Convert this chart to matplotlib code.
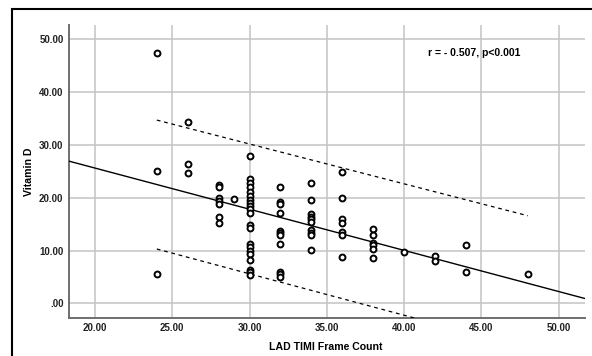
import matplotlib
matplotlib.use("Agg")
import matplotlib.pyplot as plt
from matplotlib.patches import Rectangle
import numpy as np

plt.rcParams['font.family'] = ['Liberation Sans', 'DejaVu Sans']

# Data (LAD TIMI frame count vs Vitamin D)
tfc_24 = [24]*3;  vitd_24 = [47.4, 25.1, 5.6]
tfc_26 = [26]*3;  vitd_26 = [34.3, 26.4, 24.7]
tfc_28 = [28]*7;  vitd_28 = [22.4, 22.0, 19.9, 19.4, 18.8, 16.4, 15.2]
tfc_29 = [29];    vitd_29 = [19.8]
tfc_30 = [30]*21; vitd_30 = [27.9, 23.5, 22.7, 22.0, 21.1, 20.4, 19.5, 19.0, 18.5, 17.8,
                             17.1, 14.9, 14.2, 11.3, 10.6, 10.0, 9.4, 8.3, 6.4, 6.0, 5.4]
tfc_32 = [32]*11; vitd_32 = [22.1, 19.2, 18.9, 17.2, 13.8, 13.4, 12.9, 11.2, 5.9, 5.5, 5.0]
tfc_34 = [34]*10; vitd_34 = [22.8, 19.6, 16.9, 16.4, 15.9, 15.4, 13.9, 13.4, 12.9, 10.1]
tfc_36 = [36]*7;  vitd_36 = [24.8, 20.0, 15.9, 15.3, 13.5, 13.0, 8.8]
tfc_38 = [38]*6;  vitd_38 = [14.1, 12.9, 11.5, 11.0, 10.3, 8.6]
tfc_40 = [40];    vitd_40 = [9.7]
tfc_42 = [42]*2;  vitd_42 = [8.9, 8.0]
tfc_44 = [44]*2;  vitd_44 = [11.0, 5.9]
tfc_48 = [48];    vitd_48 = [5.6]

tfc = tfc_24 + tfc_26 + tfc_28 + tfc_29 + tfc_30 + tfc_32 + tfc_34 + tfc_36 + tfc_38 + tfc_40 + tfc_42 + tfc_44 + tfc_48
vitd = vitd_24 + vitd_26 + vitd_28 + vitd_29 + vitd_30 + vitd_32 + vitd_34 + vitd_36 + vitd_38 + vitd_40 + vitd_42 + vitd_44 + vitd_48

# Fit line and 95% prediction interval
fit_intercept = 41.2
fit_slope = -0.779
pi_x = [24, 48]
pi_upper = [34.7, 16.6]
pi_lower = [10.3, -8.5]

x_ticks = [20, 25, 30, 35, 40, 45, 50]
x_ticklabels = ['20.00', '25.00', '30.00', '35.00', '40.00', '45.00', '50.00']
y_ticks = [0, 10, 20, 30, 40, 50]
y_ticklabels = ['.00', '10.00', '20.00', '30.00', '40.00', '50.00']
annot = 'r = - 0.507, p<0.001'

fig = plt.figure(figsize=(5.92, 3.56), dpi=100)
fig.patch.set_facecolor('white')
ax = fig.add_axes([0.1166, 0.1076, 0.9882 - 0.1166, 0.9298 - 0.1076])

xlim = (18.32, 51.7)
ylim = (-2.7, 52.7)
ax.set_xlim(*xlim)
ax.set_ylim(*ylim)

ax.set_xticks(x_ticks)
ax.set_xticklabels(x_ticklabels)
ax.set_yticks(y_ticks)
ax.set_yticklabels(y_ticklabels)
ax.tick_params(axis='x', length=0, labelsize=7, pad=4)
ax.tick_params(axis='y', length=0, labelsize=7, pad=4)
for lab in ax.get_xticklabels() + ax.get_yticklabels():
    lab.set_fontweight('bold')
    lab.set_color('#222222')

ax.grid(True, color='#c4c4c4', linewidth=1.1)
ax.set_axisbelow(True)
for s in ['top', 'right']:
    ax.spines[s].set_visible(False)
for s in ['left', 'bottom']:
    ax.spines[s].set_color('#6e6e6e')
    ax.spines[s].set_linewidth(1.4)

# fit line
fx = np.array(xlim)
ax.plot(fx, fit_intercept + fit_slope * fx, color='black', linewidth=1.0, zorder=3)
# prediction interval
ax.plot(pi_x, pi_upper, color='black', linewidth=0.9, linestyle=(0, (3, 3)), zorder=3)
ax.plot(pi_x, pi_lower, color='black', linewidth=0.9, linestyle=(0, (3, 3)), zorder=3)

ax.scatter(tfc, vitd, s=18, facecolors='white', edgecolors='black', linewidths=1.4, zorder=4)

ax.set_xlabel('LAD TIMI Frame Count', fontsize=7.6, fontweight='bold')
ax.set_ylabel('Vitamin D', fontsize=7.6, fontweight='bold')
ax.xaxis.set_label_coords(0.4984, -0.101)
ax.xaxis.label.set_va('center')
ax.yaxis.set_label_coords(-0.078, 0.5)
ax.yaxis.label.set_va('center')
ax.yaxis.label.set_ha('center')

ax.text(0.785, 0.905, annot, transform=ax.transAxes, fontsize=7.5, fontweight='bold',
        ha='center', va='center', color='black')

# outer frame
fig.patches.append(Rectangle((12 / 592, -0.05), 1.0, 1 - 9 / 356 + 0.05,
                             transform=fig.transFigure, fill=False,
                             edgecolor='black', linewidth=1.5, figure=fig))

fig.savefig('out.png', dpi=100)
